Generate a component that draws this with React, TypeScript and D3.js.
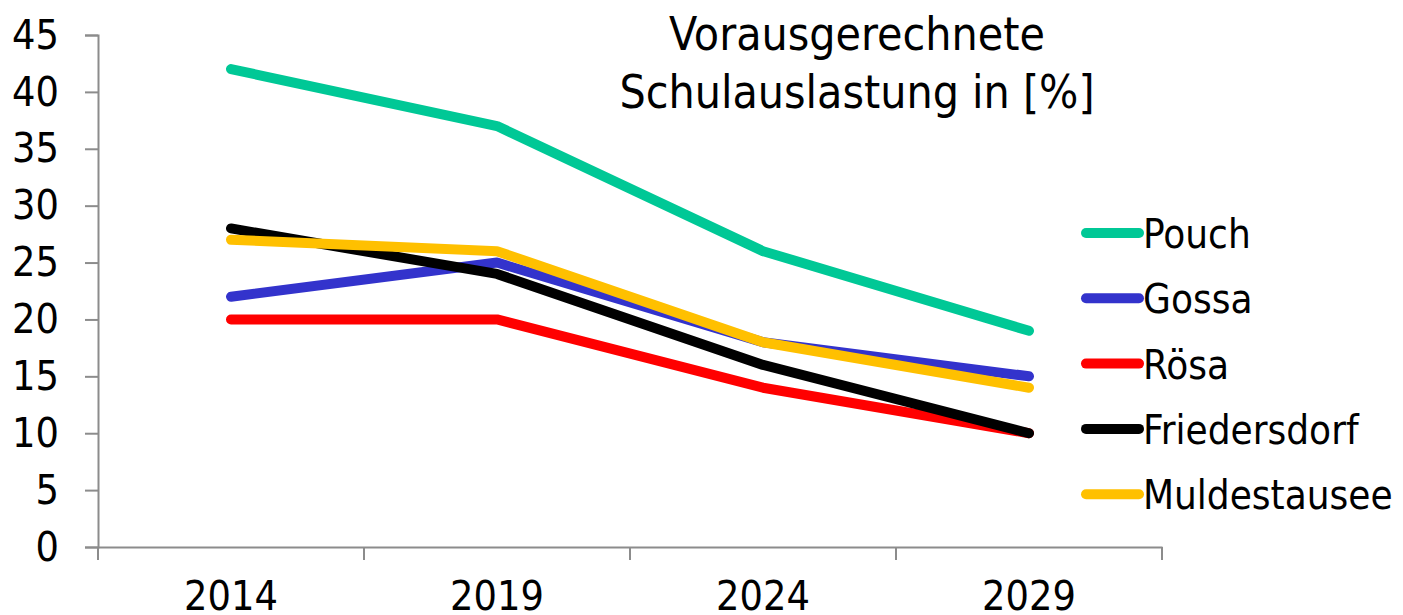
import { useEffect, useRef } from 'react'
import * as d3 from 'd3'

const years = ['2014', '2019', '2024', '2029']
const yTicks = [0, 5, 10, 15, 20, 25, 30, 35, 40, 45]
const seriesNames = ['Pouch', 'Gossa', 'Rösa', 'Friedersdorf', 'Muldestausee']
const seriesColors = ['#00C896', '#3333CC', '#FF0000', '#000000', '#FFC000']
const pouch = [42, 37, 26, 19]
const gossa = [22, 25, 18, 15]
const roesa = [20, 20, 14, 10]
const friedersdorf = [28, 24, 16, 10]
const muldestausee = [27, 26, 18, 14]
const titleLines = ['Vorausgerechnete', 'Schulauslastung in [%]']

const FONT = '"DejaVu Sans Condensed", "DejaVu Sans", sans-serif'

export default function App() {
  const svgRef = useRef<SVGSVGElement>(null)

  useEffect(() => {
    const svg = d3.select(svgRef.current)
    svg.selectAll('*').remove()

    const W = 1403
    const H = 615
    const left = 98
    const right = 1162
    const top = 35
    const bottom = 547

    svg.attr('width', W).attr('height', H)

    const x = d3.scaleBand<string>().domain(years).range([left, right])
    const y = d3.scaleLinear().domain([0, 45]).range([bottom, top])

    const axisColor = '#8c8c8c'

    // Y axis
    const yAxis = svg
      .append('g')
      .attr('transform', `translate(${left},0)`)
      .call(d3.axisLeft(y).tickValues(yTicks).tickSize(13).tickPadding(26))
    yAxis.select('.domain').attr('stroke', axisColor).attr('stroke-width', 2)
    yAxis.selectAll('.tick line').attr('stroke', axisColor).attr('stroke-width', 2)
    yAxis
      .selectAll('.tick text')
      .attr('fill', '#000')
      .style('font-family', FONT)
      .style('font-size', '41px')

    // X axis
    const xAxis = svg
      .append('g')
      .attr('transform', `translate(0,${bottom})`)
      .call(d3.axisBottom(x).tickSize(0).tickPadding(0))
    xAxis.select('.domain').attr('stroke', axisColor).attr('stroke-width', 2)
    xAxis
      .selectAll('.tick text')
      .attr('fill', '#000')
      .attr('dy', null)
      .attr('y', 63)
      .style('font-family', FONT)
      .style('font-size', '41px')

    // category boundary ticks
    const bounds = years.map((yr) => x(yr) as number).concat([right])
    svg
      .selectAll('.xb')
      .data(bounds)
      .enter()
      .append('line')
      .attr('x1', (d) => d)
      .attr('x2', (d) => d)
      .attr('y1', bottom)
      .attr('y2', bottom + 13)
      .attr('stroke', axisColor)
      .attr('stroke-width', 2)

    const allSeries = [pouch, gossa, roesa, friedersdorf, muldestausee]
    const line = d3
      .line<number>()
      .x((_, i) => (x(years[i]) as number) + x.bandwidth() / 2)
      .y((v) => y(v))

    allSeries.forEach((vals, i) => {
      svg
        .append('path')
        .datum(vals)
        .attr('fill', 'none')
        .attr('stroke', seriesColors[i])
        .attr('stroke-width', 10)
        .attr('stroke-linecap', 'round')
        .attr('stroke-linejoin', 'round')
        .attr('d', line)
    })

    // Legend
    const lg = svg.append('g')
    seriesNames.forEach((name, i) => {
      const ly = 233 + i * 65.3
      lg.append('line')
        .attr('x1', 1086)
        .attr('x2', 1139)
        .attr('y1', ly)
        .attr('y2', ly)
        .attr('stroke', seriesColors[i])
        .attr('stroke-width', 10)
        .attr('stroke-linecap', 'round')
      lg.append('text')
        .attr('x', 1143)
        .attr('y', ly + 15)
        .attr('fill', '#000')
        .style('font-family', FONT)
        .style('font-size', '40px')
        .text(name)
    })

    // Title
    titleLines.forEach((t, i) => {
      svg
        .append('text')
        .attr('x', 857)
        .attr('y', 50 + i * 58)
        .attr('text-anchor', 'middle')
        .attr('fill', '#000')
        .style('font-family', FONT)
        .style('font-size', '46px')
        .text(t)
    })
  }, [])

  return (
    <div style={{ position: 'absolute', left: 0, top: 0, background: '#fff' }}>
      <svg ref={svgRef} style={{ display: 'block' }} />
    </div>
  )
}
